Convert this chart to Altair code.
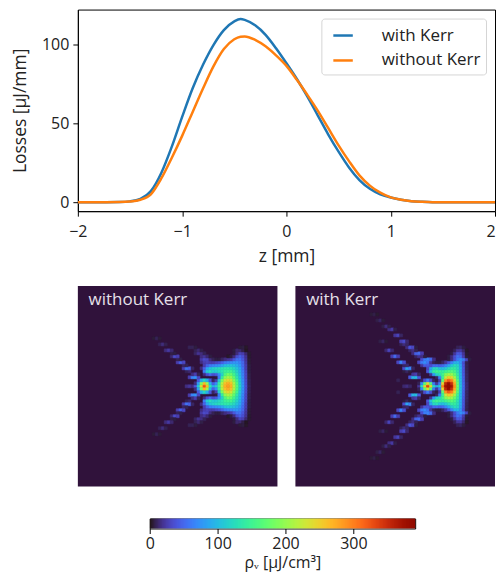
import altair as alt
import pandas as pd

FONT = "Open Sans"
INK = "#222222"
BASE = "#30123b"

# Top panel: losses per mm along z
z_mm = [-2.0, -1.8, -1.6, -1.5, -1.4, -1.3, -1.2, -1.1, -1.0, -0.9, -0.8, -0.7, -0.6, -0.5, -0.44, -0.4, -0.3, -0.2, -0.1,
        0.0, 0.1, 0.2, 0.3, 0.4, 0.5, 0.6, 0.7, 0.8, 0.9, 1.0, 1.1, 1.2, 1.3, 1.4, 1.6, 2.0]
with_kerr = [0, 0, 0.1, 0.5, 2, 7, 18.5, 35, 54, 72, 87, 99.5, 109, 114.5, 116, 115.5, 112, 106, 97.5,
             88, 78, 67, 55, 43, 32, 22, 14, 8.5, 5, 3, 1.5, 0.6, 0.2, 0, 0, 0]
without_kerr = [0, 0, 0.1, 0.4, 1.5, 5, 15, 28, 42, 57, 72, 86, 97, 103.2, 104.8, 105, 102.8, 98.7, 93,
                86.3, 77.5, 68, 58, 47, 36, 26, 17, 10.5, 6, 3, 1.5, 0.6, 0.2, 0, 0, 0]
series_names = ["with Kerr", "without Kerr"]
series_colors = ["#1f77b4", "#ff7f0e"]

# Heat maps: (row, first column, values) for the upper half; the lower half mirrors about row 33
without_rows = [
    (33, 36, [15, 20, 15, 40, 110, 240, 325, 265, 135, 90, 110, 150, 225, 270, 285, 270, 215, 165, 115, 75, 35, 8]),
    (32, 39, [15, 80, 190, 265, 205, 95, 45, 70, 140, 215, 260, 275, 260, 210, 160, 112, 72, 33, 7]),
    (31, 40, [40, 90, 120, 90, 40, 10, 25, 110, 185, 230, 245, 232, 190, 150, 105, 70, 32, 7]),
    (30, 37, [25, 65, 75, 30, 0, 0, 0, 0, 0, 5, 60, 140, 195, 210, 200, 170, 135, 100, 65, 30, 6]),
    (29, 38, [15, 25, 8, 0, 15, 35, 50, 35, 40, 70, 115, 160, 180, 175, 150, 125, 95, 62, 30, 6]),
    (28, 36, [8, 12, 0, 0, 0, 0, 60, 110, 125, 110, 110, 120, 130, 145, 150, 150, 135, 115, 90, 60, 28, 5]),
    (27, 35, [25, 55, 45, 10, 0, 0, 15, 45, 85, 105, 115, 120, 125, 130, 135, 135, 130, 120, 105, 85, 55, 25, 5]),
    (26, 35, [10, 8, 0, 0, 0, 0, 0, 25, 45, 60, 65, 70, 75, 85, 100, 105, 105, 100, 90, 75, 50, 25, 5]),
    (25, 33, [25, 45, 30, 0, 0, 0, 0, 0, 15, 25, 28, 25, 25, 30, 35, 45, 58, 65, 70, 75, 75, 65, 48, 22, 4]),
    (24, 33, [8, 6, 0, 0, 0, 0, 0, 0, 22, 32, 30, 15, 8, 5, 5, 10, 15, 20, 25, 40, 55, 55, 40, 20, 4]),
    (23, 31, [12, 32, 25, 0, 0, 0, 0, 0, 0, 0, 15, 20, 12, 5, 0, 0, 0, 0, 0, 2, 5, 15, 35, 45, 35, 18, 3]),
    (22, 31, [6, 5, 0, 0, 0, 0, 0, 0, 10, 18, 15, 8, 0, 0, 0, 0, 0, 0, 0, 0, 0, 5, 15, 28, 25, 12, 3]),
    (21, 29, [14, 22, 12, 0, 0, 0, 0, 0, 0, 0, 8, 12, 6, 0, 0, 0, 0, 0, 0, 0, 0, 0, 0, 5, 12, 12, 6, 1]),
    (20, 37, [8, 8, 5, 0, 0, 0, 0, 0, 0, 0, 0, 0, 0, 0, 0, 0, 0, 4, 5, 2]),
    (19, 27, [8, 14, 7]),
    (17, 25, [4, 8, 4]),
]
with_rows = [
    (33, 36, [12, 15, 10, 0, 0, 20, 130, 250, 335, 250, 125, 90, 115, 300, 375, 390, 370, 290, 180, 105, 50, 12]),
    (32, 41, [8, 70, 170, 240, 165, 60, 20, 60, 245, 355, 385, 350, 275, 175, 100, 48, 12]),
    (31, 34, [8, 0, 0, 0, 0, 0, 0, 0, 10, 35, 60, 35, 10, 5, 25, 170, 290, 320, 300, 245, 165, 100, 45, 10]),
    (30, 38, [40, 95, 100, 40, 0, 0, 0, 0, 0, 10, 60, 145, 225, 255, 245, 205, 150, 95, 45, 10]),
    (29, 39, [20, 25, 10, 0, 0, 0, 20, 75, 115, 125, 150, 190, 205, 200, 175, 140, 95, 42, 10]),
    (28, 36, [5, 10, 5, 0, 0, 0, 0, 0, 40, 105, 140, 150, 145, 140, 150, 160, 165, 155, 130, 90, 40, 9]),
    (27, 36, [35, 85, 65, 10, 0, 0, 0, 0, 30, 85, 120, 125, 105, 100, 110, 125, 140, 140, 125, 90, 40, 8]),
    (26, 36, [10, 12, 0, 0, 0, 0, 20, 40, 40, 35, 50, 50, 45, 50, 65, 85, 110, 125, 120, 85, 38, 8]),
    (25, 34, [30, 65, 35, 0, 0, 0, 0, 30, 60, 70, 55, 20, 8, 5, 5, 10, 20, 40, 65, 90, 95, 75, 35, 7]),
    (24, 42, [35, 60, 65, 50, 15, 0, 0, 0, 0, 5, 15, 35, 60, 75, 62, 30, 5]),
    (23, 32, [25, 50, 25, 0, 0, 0, 0, 0, 10, 18, 15, 5, 0, 0, 0, 0, 0, 0, 0, 5, 15, 35, 55, 50, 25, 4]),
    (22, 39, [15, 45, 50, 25, 0, 0, 0, 0, 0, 0, 0, 0, 0, 5, 20, 40, 40, 20, 3]),
    (21, 30, [12, 28, 12, 0, 0, 0, 0, 0, 10, 15, 8, 0, 0, 0, 0, 0, 0, 0, 0, 0, 0, 0, 0, 8, 20, 22, 12, 2]),
    (20, 37, [15, 38, 30, 5, 0, 0, 0, 0, 0, 0, 0, 0, 0, 0, 0, 0, 0, 8, 10, 5]),
    (19, 35, [8, 14, 10]),
    (18, 28, [6, 10, 4, 0, 0, 0, 0, 25, 32, 12]),
    (16, 33, [20, 28, 10]),
    (14, 31, [15, 22, 6]),
    (13, 29, [6, 14, 6]),
    (11, 27, [6, 10, 4]),
    (9, 25, [4, 6, 3]),
]
N_CELLS = 67
CENTRE = 33
RHO_MAX = 391
bar_ticks = [0, 100, 200, 300]
bar_levels = list(range(0, RHO_MAX, 2))


def cells(rows):
    out = []
    for r, c0, vals in rows:
        for i, v in enumerate(vals):
            if v <= 0:
                continue
            c = c0 + i
            out.append({"c": c, "c2": c + 1, "r": r, "r2": r + 1, "v": v})
            if r != CENTRE:
                m = 2 * CENTRE - r
                out.append({"c": c, "c2": c + 1, "r": m, "r2": m + 1, "v": v})
    return pd.DataFrame(out)


rho_scale = alt.Scale(scheme="turbo", domain=[0, RHO_MAX])
color_rho = alt.Color("v:Q", legend=None, scale=rho_scale)


def panel(rows, label):
    xs = alt.Scale(domain=[0, N_CELLS], nice=False, zero=False)
    ys = alt.Scale(domain=[N_CELLS, 0], nice=False, zero=False)
    heat = alt.Chart(cells(rows)).mark_rect(strokeWidth=0.6).encode(
        x=alt.X("c:Q", scale=xs, axis=None), x2="c2:Q",
        y=alt.Y("r:Q", scale=ys, axis=None), y2="r2:Q",
        color=color_rho,
        stroke=alt.Stroke("v:Q", legend=None, scale=rho_scale),
    )
    text = alt.Chart(pd.DataFrame({"c": [3.6], "r": [4.6], "t": [label]})).mark_text(
        align="left", baseline="middle", font=FONT, fontSize=17, color="#e6e0ea"
    ).encode(x=alt.X("c:Q", scale=xs, axis=None), y=alt.Y("r:Q", scale=ys, axis=None), text="t:N")
    return alt.layer(heat, text).properties(
        width=200, height=201, view=alt.ViewConfig(fill=BASE, stroke=None)
    )


records = []
for name, vals in zip(series_names, [with_kerr, without_kerr]):
    for z, v in zip(z_mm, vals):
        records.append({"z": z, "loss": v, "series": name})

top = alt.Chart(pd.DataFrame(records)).mark_line(
    strokeWidth=2.5, interpolate="monotone", clip=True
).encode(
    x=alt.X("z:Q", scale=alt.Scale(domain=[-2, 2], nice=False, zero=False),
            axis=alt.Axis(values=[-2, -1, 0, 1, 2], title="z [mm]", grid=False, format="d",
                          labelFlush=False,
                          labelAlign=alt.expr("datum.value == 2 ? 'right' : 'center'"),
                          domainColor="#000", tickColor="#000", tickSize=5,
                          labelFont=FONT, labelFontSize=16, labelColor=INK, labelPadding=7,
                          titleFont=FONT, titleFontSize=17.5, titleColor=INK,
                          titleFontWeight="normal", titlePadding=8)),
    y=alt.Y("loss:Q", scale=alt.Scale(domain=[-5.7, 122], nice=False, zero=False),
            axis=alt.Axis(values=[0, 50, 100], title="Losses [μJ/mm]", grid=False,
                          domainColor="#000", tickColor="#000", tickSize=5,
                          labelFont=FONT, labelFontSize=16, labelColor=INK, labelPadding=4,
                          titleFont=FONT, titleFontSize=17.5, titleColor=INK,
                          titleFontWeight="normal", titlePadding=12)),
    color=alt.Color("series:N", scale=alt.Scale(domain=series_names, range=series_colors),
                    legend=alt.Legend(title=None, orient="none", legendX=244, legendY=9,
                                      fillColor="white", strokeColor="#d5d5d5", cornerRadius=3,
                                      padding=5.5, symbolType="M-0.5,0H1.45", symbolStrokeWidth=2.5,
                                      symbolSize=400, rowPadding=5,
                                      labelFont=FONT, labelFontSize=17, labelColor=INK,
                                      labelOffset=32, offset=0)),
    order=alt.Order("z:Q"),
).properties(width=418, height=202, view=alt.ViewConfig(stroke="#000", strokeWidth=1, fill=None))

spacer = alt.Chart(pd.DataFrame({"x": [0]})).mark_point(opacity=0).encode(
    x=alt.X("x:Q", axis=None), y=alt.value(0)
).properties(width=1, height=1, view=alt.ViewConfig(stroke=None))

bar_df = pd.DataFrame({"v": bar_levels, "v2": [v + 4 for v in bar_levels]})
bar = alt.Chart(bar_df).mark_rect(strokeWidth=0, clip=True).encode(
    x=alt.X("v:Q", scale=alt.Scale(domain=[0, RHO_MAX], nice=False, zero=False),
            axis=alt.Axis(values=bar_ticks, title="ρᵥ [μJ/cm³]", grid=False, domain=False,
                          labelFlush=False, tickColor="#000", tickSize=5, format="d",
                          labelFont=FONT, labelFontSize=16, labelColor=INK, labelPadding=2,
                          titleFont=FONT, titleFontSize=16, titleColor=INK,
                          titleFontWeight="normal", titlePadding=3)),
    x2="v2:Q",
    color=color_rho,
).properties(width=266, height=10, view=alt.ViewConfig(stroke="#000", strokeWidth=1))

bottom = alt.hconcat(panel(without_rows, "without Kerr"), panel(with_rows, "with Kerr"), spacing=18)
bar_row = alt.hconcat(spacer, bar, spacing=62)
lower = alt.vconcat(bottom, bar_row, spacing=29)

chart = alt.vconcat(top, lower, spacing=21).resolve_scale(color="independent").properties(
    padding={"left": 3, "top": 0, "right": 0, "bottom": 0},
    background="white",
)
chart.save("out.html", embed_options={"renderer": "svg", "actions": False})
